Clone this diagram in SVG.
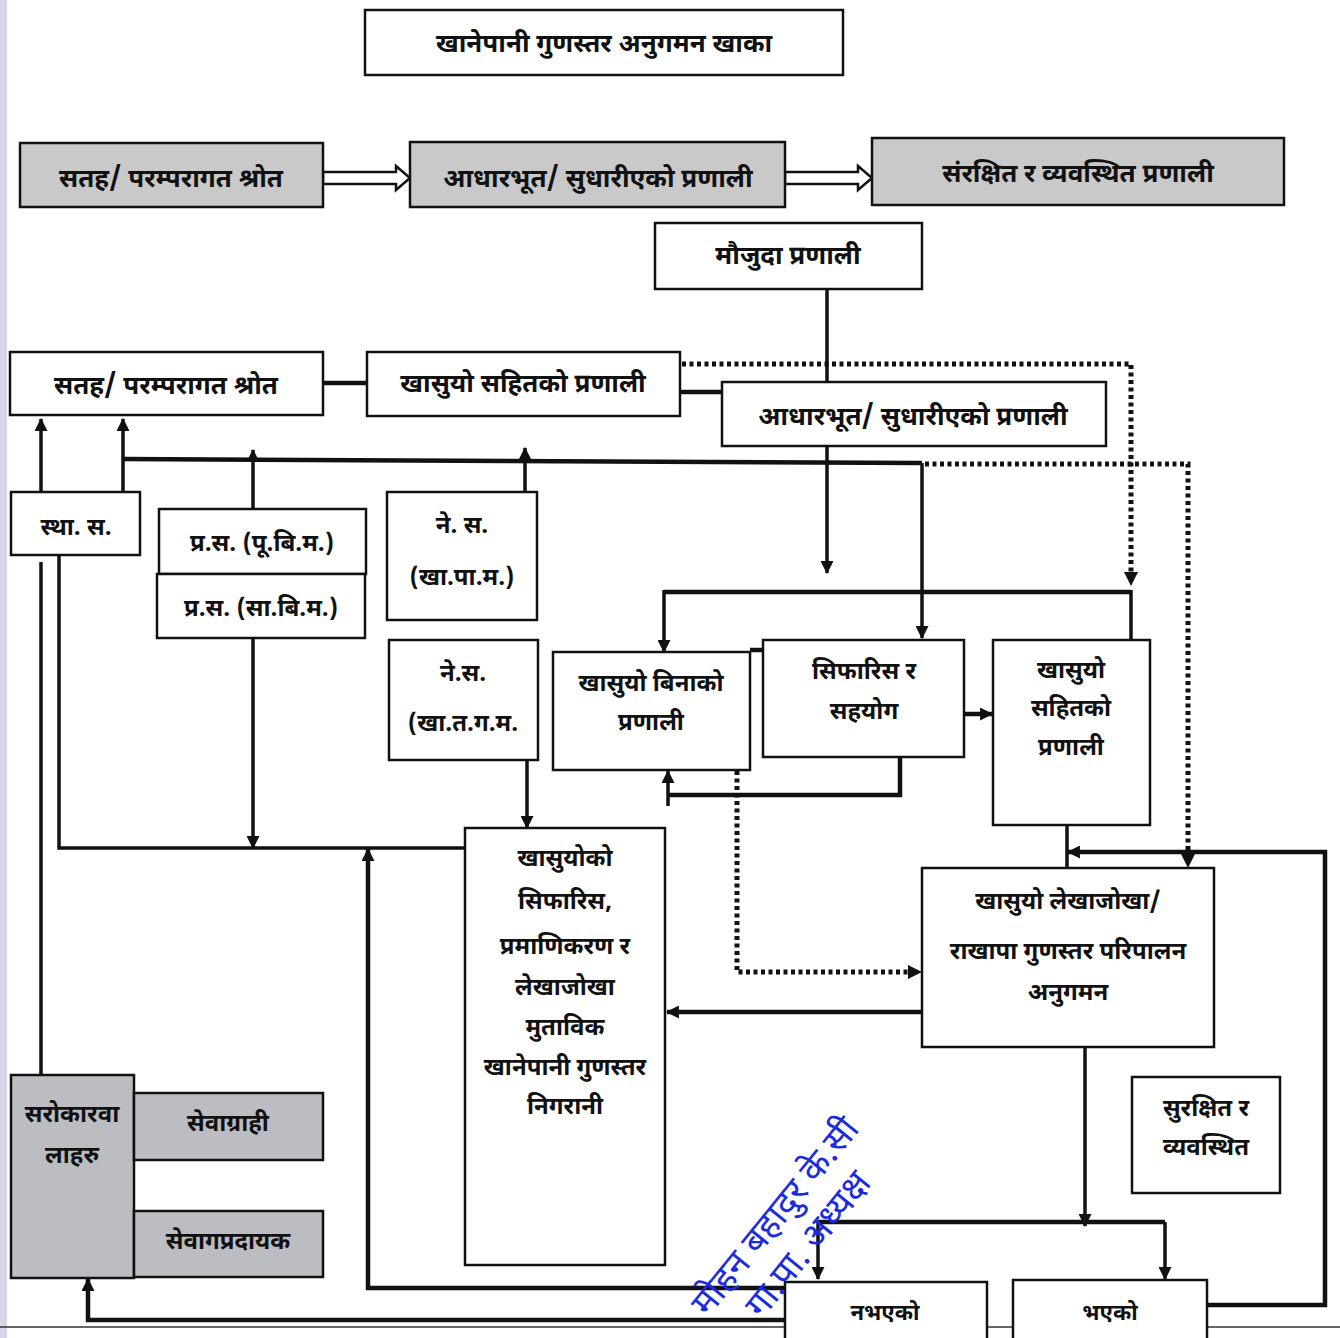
<svg xmlns="http://www.w3.org/2000/svg" width="1340" height="1338" viewBox="0 0 1340 1338">
<defs>
<marker id="ah" viewBox="0 0 12 12" refX="11" refY="6" markerWidth="13" markerHeight="13" markerUnits="userSpaceOnUse" orient="auto">
<path d="M0,0 L12,6 L0,12 Z" fill="#111"/>
</marker>
<style>
.box{fill:#fff;stroke:#111;stroke-width:2.5}
.gray{fill:#c9c9c9;stroke:#111;stroke-width:2.5}
.sh{fill:#bcbcc3;stroke:#111;stroke-width:2.5}
.ln{fill:none;stroke:#111;stroke-width:3.5}
.thk{fill:none;stroke:#111;stroke-width:4.5}
.dot{fill:none;stroke:#111;stroke-width:5;stroke-dasharray:4 3.5}
.hol{fill:#fff;stroke:#111;stroke-width:2.5}
text{font-family:"Noto Sans Devanagari","Noto Sans",sans-serif;font-weight:bold;fill:#111;text-anchor:middle}
.t26{font-size:26px}
.t24{font-size:24px}
.t22{font-size:22px}
.stamp{font-family:"Noto Sans Devanagari","Noto Sans",sans-serif;font-weight:normal;fill:#1a2be0;font-size:36px;text-anchor:start}
</style>
</defs>
<rect x="0" y="0" width="1340" height="1338" fill="#fff"/>
<rect x="0" y="0" width="7" height="1338" fill="#d6d6ea"/>
<line x1="0" y1="1327" x2="1340" y2="1327" stroke="#333" stroke-width="1.5"/>

<g id="connectors">
<path class="hol" d="M323,172 H396 V166 L410,178 L396,190 V184 H323 Z"/>
<path class="hol" d="M785,172 H858 V166 L872,178 L858,190 V184 H785 Z"/>
<path class="ln" d="M827,289 V382"/>
<path class="thk" d="M323,383 H367"/>
<path class="thk" d="M680,392 H722"/>
<path class="dot" d="M682,364 H1131 V574"/>
<path d="M1124,572 L1138,572 L1131,586 Z" fill="#111"/>
<path class="dot" d="M925,464 H1188 V856"/>
<path d="M1181,854 L1195,854 L1188,868 Z" fill="#111"/>
<path class="thk" d="M123,459 L922,463"/>
<path class="ln" d="M922,463 V638" marker-end="url(#ah)"/>
<path class="ln" d="M123,492 V419" marker-end="url(#ah)"/>
<path class="ln" d="M41,492 V419" marker-end="url(#ah)"/>
<path class="ln" d="M253,509 V450" marker-end="url(#ah)"/>
<path class="ln" d="M525,492 V448" marker-end="url(#ah)"/>
<path class="ln" d="M827,446 V573" marker-end="url(#ah)"/>
<path class="thk" d="M664,592 H1131"/>
<path class="ln" d="M664,590 V652" marker-end="url(#ah)"/>
<path class="ln" d="M1131,590 V651" marker-end="url(#ah)"/>
<path class="thk" d="M750,650 H763"/>
<path class="thk" d="M964,714 H992" marker-end="url(#ah)"/>
<path class="thk" d="M900,757 V795 H668"/>
<path class="ln" d="M668,806 V771" marker-end="url(#ah)"/>
<path class="ln" d="M1067,825 V868"/>
<path class="thk" d="M1207,1305 H1325 V852 H1068" marker-end="url(#ah)"/>
<path class="dot" d="M737,771 V972 H910"/>
<path d="M908,965 L922,972 L908,979 Z" fill="#111"/>
<path class="thk" d="M922,1012 H667" marker-end="url(#ah)"/>
<path class="ln" d="M1085,1047 V1226" marker-end="url(#ah)"/>
<path class="thk" d="M818,1222 H1165"/>
<path class="ln" d="M818,1222 V1279" marker-end="url(#ah)"/>
<path class="ln" d="M1165,1222 V1279" marker-end="url(#ah)"/>
<path class="ln" d="M41,562 V1075"/>
<path class="ln" d="M59,555 V848 H465"/>
<path class="ln" d="M253,638 V848" marker-end="url(#ah)"/>
<path class="ln" d="M527,760 V828" marker-end="url(#ah)"/>
<path class="thk" d="M785,1288 H368 V849" marker-end="url(#ah)"/>
<path class="thk" d="M785,1320 H88 V1279" marker-end="url(#ah)"/>
</g>

<g id="n-title"><rect class="box" x="365" y="10" width="478" height="65"/><text class="t26" x="604" y="52">खानेपानी गुणस्तर अनुगमन खाका</text></g>
<g id="n-top1"><rect class="gray" x="20" y="143" width="303" height="64"/><text class="t26" x="171" y="187">सतह/  परम्परागत श्रोत</text></g>
<g id="n-top2"><rect class="gray" x="410" y="142" width="375" height="65"/><text class="t26" x="598" y="187">आधारभूत/  सुधारीएको प्रणाली</text></g>
<g id="n-top3"><rect class="gray" x="872" y="138" width="412" height="67"/><text class="t26" x="1078" y="182">संरक्षित र व्यवस्थित प्रणाली</text></g>
<g id="n-maujuda"><rect class="box" x="655" y="223" width="267" height="66"/><text class="t26" x="788" y="264">मौजुदा प्रणाली</text></g>
<g id="n-src"><rect class="box" x="10" y="352" width="313" height="63"/><text class="t26" x="166" y="394">सतह/  परम्परागत श्रोत</text></g>
<g id="n-khasuyo-sahit"><rect class="box" x="367" y="352" width="313" height="64"/><text class="t26" x="523" y="392">खासुयो सहितको प्रणाली</text></g>
<g id="n-adhar"><rect class="box" x="722" y="382" width="384" height="64"/><text class="t26" x="913" y="425">आधारभूत/  सुधारीएको प्रणाली</text></g>
<g id="n-stha"><rect class="box" x="11" y="492" width="129" height="63"/><text class="t24" x="76" y="535">स्था. स.</text></g>
<g id="n-pras1"><rect class="box" x="159" y="509" width="207" height="65"/><text class="t24" x="262" y="551">प्र.स. (पू.बि.म.)</text></g>
<g id="n-pras2"><rect class="box" x="157" y="574" width="208" height="64"/><text class="t24" x="261" y="616">प्र.स. (सा.बि.म.)</text></g>
<g id="n-nesa1"><rect class="box" x="387" y="492" width="150" height="128"/><text class="t24" x="462" y="533">ने. स.</text><text class="t24" x="462" y="585">(खा.पा.म.)</text></g>
<g id="n-nesa2"><rect class="box" x="389" y="640" width="149" height="120"/><text class="t24" x="463" y="681">ने.स.</text><text class="t24" x="463" y="731">(खा.त.ग.म.</text></g>
<g id="n-binako"><rect class="box" x="553" y="652" width="197" height="118"/><text class="t24" x="651" y="691">खासुयो बिनाको</text><text class="t24" x="651" y="730">प्रणाली</text></g>
<g id="n-sifaris"><rect class="box" x="763" y="640" width="201" height="117"/><text class="t24" x="864" y="679">सिफारिस र</text><text class="t24" x="864" y="719">सहयोग</text></g>
<g id="n-sahitko"><rect class="box" x="993" y="640" width="157" height="185"/><text class="t24" x="1071" y="678">खासुयो</text><text class="t24" x="1071" y="716">सहितको</text><text class="t24" x="1071" y="755">प्रणाली</text></g>
<g id="n-nigarani"><rect class="box" x="465" y="828" width="200" height="437"/>
<text class="t24" x="565" y="866">खासुयोको</text>
<text class="t24" x="565" y="909">सिफारिस,</text>
<text class="t24" x="565" y="954">प्रमाणिकरण र</text>
<text class="t24" x="565" y="995">लेखाजोखा</text>
<text class="t24" x="565" y="1035">मुताविक</text>
<text class="t24" x="565" y="1075">खानेपानी गुणस्तर</text>
<text class="t24" x="565" y="1114">निगरानी</text></g>
<g id="n-lekhajokha"><rect class="box" x="922" y="868" width="292" height="179"/><text class="t24" x="1068" y="909">खासुयो लेखाजोखा/</text><text class="t24" x="1068" y="959">राखापा गुणस्तर परिपालन</text><text class="t24" x="1068" y="1000">अनुगमन</text></g>
<g id="n-surakshit"><rect class="box" x="1132" y="1077" width="148" height="116"/><text class="t24" x="1206" y="1116">सुरक्षित र</text><text class="t24" x="1206" y="1155">व्यवस्थित</text></g>
<g id="n-nabhaeko"><rect class="box" x="785" y="1282" width="202" height="70"/><text class="t22" x="885" y="1320">नभएको</text></g>
<g id="n-bhaeko"><rect class="box" x="1013" y="1280" width="194" height="72"/><text class="t22" x="1110" y="1320">भएको</text></g>
<g id="n-stakeholders"><rect class="sh" x="11" y="1075" width="123" height="203"/><text class="t24" x="72" y="1122">सरोकारवा</text><text class="t24" x="72" y="1163">लाहरु</text></g>
<g id="n-sevagrahi"><rect class="sh" x="134" y="1093" width="189" height="67"/><text class="t24" x="228" y="1131">सेवाग्राही</text></g>
<g id="n-sevapradayak"><rect class="sh" x="134" y="1211" width="189" height="66"/><text class="t24" x="228" y="1249">सेवागप्रदायक</text></g>
<g id="stamp">
<text class="stamp" transform="translate(708,1318) rotate(-51)">मोहन बहादुर के.सी</text>
<text class="stamp" transform="translate(762,1320) rotate(-51)">गा.पा. अध्यक्ष</text>
</g>
</svg>
